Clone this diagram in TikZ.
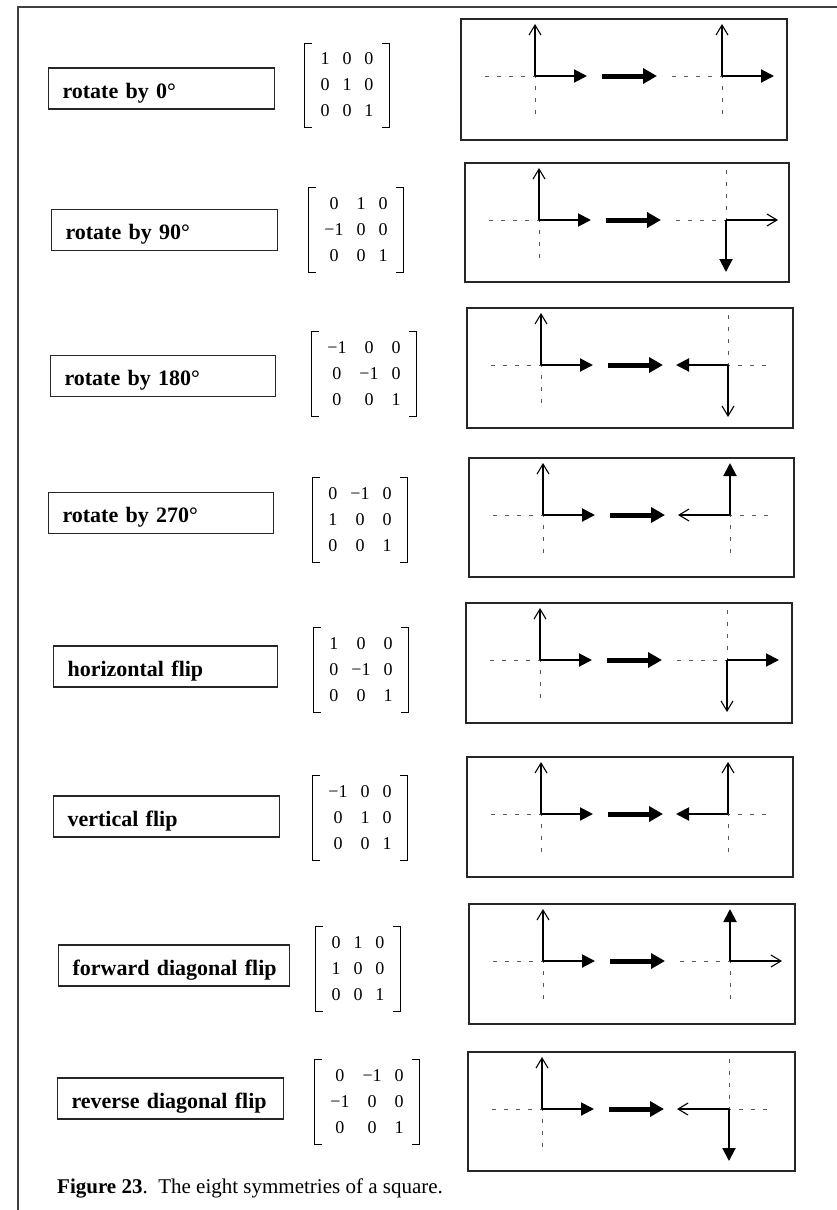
\documentclass[tikz,border=0pt]{standalone}
\usepackage{fontspec}
\setmainfont{Liberation Serif}
\usetikzlibrary{arrows.meta}
\newcommand{\armLen}{52}
\newcommand{\lblfont}{\fontsize{22}{26}\selectfont\bfseries}
\newcommand{\mtxfont}{\fontsize{18}{26}\selectfont\setlength{\tabcolsep}{6.5pt}}
\newcommand{\capfont}{\fontsize{21}{25}\selectfont}
% dashed cross through a frame origin
\newcommand{\axescross}[1]{\draw[axisdash] ([xshift=-50pt]#1) -- ([xshift=43pt]#1);
  \draw[axisdash] ([yshift=50pt]#1) -- ([yshift=-43pt]#1);}
% starting frame, the same in every panel
\newcommand{\startframe}[1]{\axescross{#1}
  \draw[openarr] (#1) -- ++(0,-\armLen);
  \draw[fillarr] (#1) -- ++(\armLen,0);
  \draw[bigarr] ([xshift=67pt]#1) -- ([xshift=122pt]#1);}
% square brackets round a matrix node
\newcommand{\mbrackets}[1]{\draw[brk] ([xshift=-2pt,yshift=3pt]#1.north west) -| ([xshift=-9pt,yshift=-3pt]#1.south west) -- ++(7,0);
  \draw[brk] ([xshift=2pt,yshift=3pt]#1.north east) -| ([xshift=9pt,yshift=-3pt]#1.south east) -- ++(-7,0);}

\begin{document}
\begin{tikzpicture}[x=1pt,y=-1pt,
  lbl/.style={draw=black!85, line width=1.1pt, anchor=west, align=left, text width=#1,
    inner xsep=14pt, inner ysep=3pt, text height=27pt, text depth=8pt, font=\lblfont},
  lbl/.default=198pt,
  mtx/.style={inner sep=0pt, font=\mtxfont},
  brk/.style={line width=0.9pt},
  panel/.style={draw=black!85, line width=1.1pt},
  axisdash/.style={black!65, line width=0.8pt, dash pattern=on 4pt off 8pt},
  openarr/.style={line width=1.1pt, -{Straight Barb[length=10pt,width=12pt]}},
  fillarr/.style={line width=2pt, -{Triangle[length=13pt,width=13pt]}},
  bigarr/.style={line width=5pt, -{Triangle[length=14pt,width=15pt]}}]

\useasboundingbox (0,0) rectangle (837,1210);
\draw[black!75, line width=1.3pt] (18,1210) -- (18,7) -- (837,7);

% rotate by 0
\node[lbl] (r1) at (48,88.5) {rotate by 0°};
\node[mtx] (m1) at (347,85.5) {\begin{tabular}{ccc}1 & 0 & 0\\ 0 & 1 & 0\\ 0 & 0 & 1\end{tabular}};
\mbrackets{m1}
\draw[panel] (461,19) rectangle (787,140);
\coordinate (p1a) at (535,76); \coordinate (p1b) at (722,76);
\startframe{p1a}
\axescross{p1b}
\draw[openarr] (p1b) -- ++(0,-\armLen);
\draw[fillarr] (p1b) -- ++(\armLen,0);

% rotate by 90
\node[lbl] (r2) at (51,230) {rotate by 90°};
\node[mtx] (m2) at (356,230) {\begin{tabular}{ccc}0 & 1 & 0\\ −1 & 0 & 0\\ 0 & 0 & 1\end{tabular}};
\mbrackets{m2}
\draw[panel] (465,163) rectangle (789,282);
\coordinate (p2a) at (539,220); \coordinate (p2b) at (726,220);
\startframe{p2a}
\axescross{p2b}
\draw[openarr] (p2b) -- ++(\armLen,0);
\draw[fillarr] (p2b) -- ++(0,\armLen);

% rotate by 180
\node[lbl=197pt] (r3) at (50,376) {rotate by 180°};
\node[mtx] (m3) at (364,374) {\begin{tabular}{ccc}−1 & 0 & 0\\ 0 & −1 & 0\\ 0 & 0 & 1\end{tabular}};
\mbrackets{m3}
\draw[panel] (467,308) rectangle (793,428);
\coordinate (p3a) at (541,365); \coordinate (p3b) at (728,365);
\startframe{p3a}
\axescross{p3b}
\draw[openarr] (p3b) -- ++(0,\armLen);
\draw[fillarr] (p3b) -- ++(-\armLen,0);

% rotate by 270
\node[lbl=197pt] (r4) at (48,513) {rotate by 270°};
\node[mtx] (m4) at (360,520) {\begin{tabular}{ccc}0 & −1 & 0\\ 1 & 0 & 0\\ 0 & 0 & 1\end{tabular}};
\mbrackets{m4}
\draw[panel] (469,458) rectangle (794,577);
\coordinate (p4a) at (543,515); \coordinate (p4b) at (730,515);
\startframe{p4a}
\axescross{p4b}
\draw[openarr] (p4b) -- ++(-\armLen,0);
\draw[fillarr] (p4b) -- ++(0,-\armLen);

% horizontal flip
\node[lbl=196pt] (r5) at (53,666.5) {horizontal flip};
\node[mtx] (m5) at (361,670) {\begin{tabular}{ccc}1 & 0 & 0\\ 0 & −1 & 0\\ 0 & 0 & 1\end{tabular}};
\mbrackets{m5}
\draw[panel] (466,603) rectangle (792,723);
\coordinate (p5a) at (540,660); \coordinate (p5b) at (727,660);
\startframe{p5a}
\axescross{p5b}
\draw[openarr] (p5b) -- ++(0,\armLen);
\draw[fillarr] (p5b) -- ++(\armLen,0);

% vertical flip
\node[lbl] (r6) at (53,816.5) {vertical flip};
\node[mtx] (m6) at (360,818) {\begin{tabular}{ccc}−1 & 0 & 0\\ 0 & 1 & 0\\ 0 & 0 & 1\end{tabular}};
\mbrackets{m6}
\draw[panel] (467,757) rectangle (793,877);
\coordinate (p6a) at (541,814); \coordinate (p6b) at (728,814);
\startframe{p6a}
\axescross{p6b}
\draw[openarr] (p6b) -- ++(0,-\armLen);
\draw[fillarr] (p6b) -- ++(-\armLen,0);

% forward diagonal flip
\node[lbl=203pt] (r7) at (58,965.5) {\mbox{forward diagonal flip}};
\node[mtx] (m7) at (358,969) {\begin{tabular}{ccc}0 & 1 & 0\\ 1 & 0 & 0\\ 0 & 0 & 1\end{tabular}};
\mbrackets{m7}
\draw[panel] (469,904) rectangle (795,1024);
\coordinate (p7a) at (543,961); \coordinate (p7b) at (730,961);
\startframe{p7a}
\axescross{p7b}
\draw[openarr] (p7b) -- ++(\armLen,0);
\draw[fillarr] (p7b) -- ++(0,-\armLen);

% reverse diagonal flip
\node[lbl] (r8) at (57,1098.5) {reverse diagonal flip};
\node[mtx] (m8) at (367,1102) {\begin{tabular}{ccc}0 & −1 & 0\\ −1 & 0 & 0\\ 0 & 0 & 1\end{tabular}};
\mbrackets{m8}
\draw[panel] (468,1052) rectangle (795,1171);
\coordinate (p8a) at (542,1109); \coordinate (p8b) at (729,1109);
\startframe{p8a}
\axescross{p8b}
\draw[openarr] (p8b) -- ++(-\armLen,0);
\draw[fillarr] (p8b) -- ++(0,\armLen);

\node[anchor=base west, inner sep=0pt, font=\capfont] (cap) at (57,1193)
  {\textbf{Figure 23}.\ \ The eight symmetries of a square.};
\end{tikzpicture}
\end{document}
